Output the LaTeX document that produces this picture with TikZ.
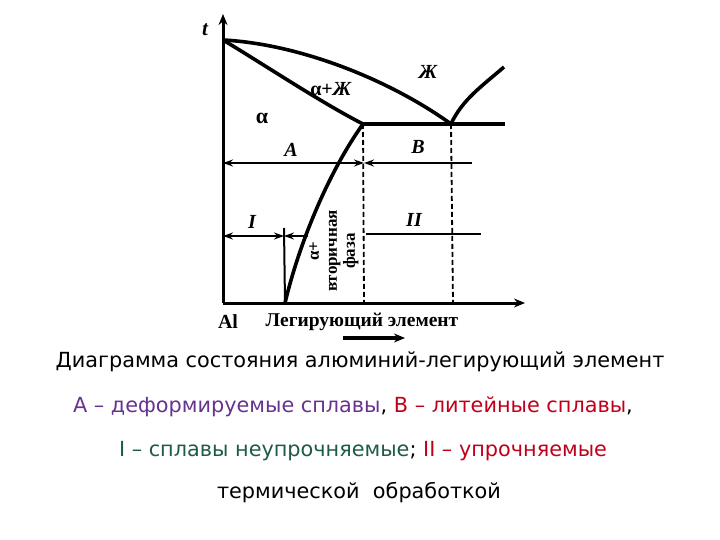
\documentclass[tikz,border=0pt]{standalone}
\usepackage{fontspec}
\setmainfont{Liberation Serif}
\newfontfamily\capfont{DejaVu Sans}
\usetikzlibrary{arrows.meta}
\definecolor{cpurple}{HTML}{66338F}
\definecolor{cred}{HTML}{C0001A}
\definecolor{cteal}{HTML}{1E5A4A}
\tikzset{
  curve/.style={line width=3.6pt},
  axisline/.style={line width=3pt,-{Stealth[length=11pt,width=9pt]}},
  rangeline/.style={line width=2.4pt},
  tipl/.style={-{Stealth[length=10pt,width=7pt]}},
  tiplr/.style={{Stealth[length=10pt,width=7pt]}-{Stealth[length=10pt,width=7pt]}},
  dashline/.style={line width=1.8pt,dash pattern=on 5pt off 3pt},
  lbl/.style={font=\fontsize{20}{20}\selectfont\bfseries\itshape,inner sep=0pt},
  captext/.style={font=\capfont\fontsize{20.8}{22}\selectfont,inner sep=0pt}
}
\begin{document}
\begin{tikzpicture}[x=1pt,y=-1pt]
\useasboundingbox (0,0) rectangle (720,540);
% key points
\coordinate (orig) at (223,303);
\coordinate (ytop) at (223,14);
\coordinate (xend) at (525,303);
\coordinate (top) at (223,40);
\coordinate (e1) at (363,124);
\coordinate (e2) at (451,124);
\coordinate (eend) at (505,124);
\coordinate (rtop) at (504,67);
\coordinate (sb) at (285,303);
\coordinate (d1) at (364,303);
\coordinate (d2) at (453,303);
% axes
\draw[axisline] (orig) -- (ytop);
\draw[axisline] (orig) -- (xend);
% curves
\draw[curve] (top) .. controls (300,44) and (390,80) .. (e2);
\draw[curve] (top) .. controls (260,62) and (320,102) .. (e1);
\draw[curve] (e1) -- (eend);
\draw[curve] (e2) .. controls (462,100) and (482,86) .. (rtop);
\draw[curve] (e1) .. controls (330,170) and (300,240) .. (sb);
% dashed verticals
\draw[dashline] (e1) -- (d1);
\draw[dashline] (e2) -- (d2);
% A / B ranges
\coordinate (aL) at (223,163);
\coordinate (aR) at (364,163);
\coordinate (bR) at (472,163);
\draw[rangeline,tiplr] (aL) -- (aR);
\draw[rangeline,tipl] (bR) -- (aR);
% I / II ranges
\coordinate (iL) at (223,236);
\coordinate (iR) at (284,236);
\coordinate (iC) at (308,236);
\coordinate (vt) at (284,228);
\draw[rangeline,tiplr] (iL) -- (iR);
\draw[rangeline,tipl] (iC) -- (iR);
\draw[line width=2pt] (vt) -- (sb);
\coordinate (iiL) at (366,234);
\coordinate (iiR) at (481,234);
\draw[rangeline] (iiL) -- (iiR);
% labels
\node[font=\fontsize{21}{20}\selectfont\bfseries\itshape,inner sep=0pt] (tl) at (205,30) {t};
\node[inner sep=0pt,font=\fontsize{22}{20}\selectfont\bfseries] (al1) at (262,118) {α};
\node[inner sep=0pt,font=\fontsize{20}{20}\selectfont\bfseries] (alz) at (331,89) {α+\textit{Ж}};
\node[lbl] (zh) at (428,72) {Ж};
\node[lbl] (la) at (291,150) {A};
\node[lbl] (lb) at (418,147) {B};
\node[lbl] (li) at (252,222) {I};
\node[lbl] (lii) at (414,220) {II};
\node[rotate=90,align=center,inner sep=0pt,font=\fontsize{17}{18}\selectfont\bfseries] (sec) at (334,251) {α+\\вторичная\\фаза};
\node[inner sep=0pt,font=\fontsize{20}{20}\selectfont\bfseries] (alx) at (228,322) {Al};
\node[inner sep=0pt,font=\fontsize{19.5}{20}\selectfont\bfseries] (xl) at (362,322) {Легирующий элемент};
\coordinate (xa1) at (343,338);
\coordinate (xa2) at (405,338);
\draw[line width=3.4pt,-{Stealth[length=11pt,width=9pt]}] (xa1) -- (xa2);
% caption
\node[captext] (c1) at (360,362) {Диаграмма состояния алюминий-легирующий элемент};
\node[captext] (c2) at (353,407) {\textcolor{cpurple}{А – деформируемые сплавы}, \textcolor{cred}{В – литейные сплавы},};
\node[captext] (c3) at (363,451) {\textcolor{cteal}{I – сплавы неупрочняемые}; \textcolor{cred}{II – упрочняемые}};
\node[captext] (c4) at (359,493) {термической\ \ обработкой};
\end{tikzpicture}
\end{document}
